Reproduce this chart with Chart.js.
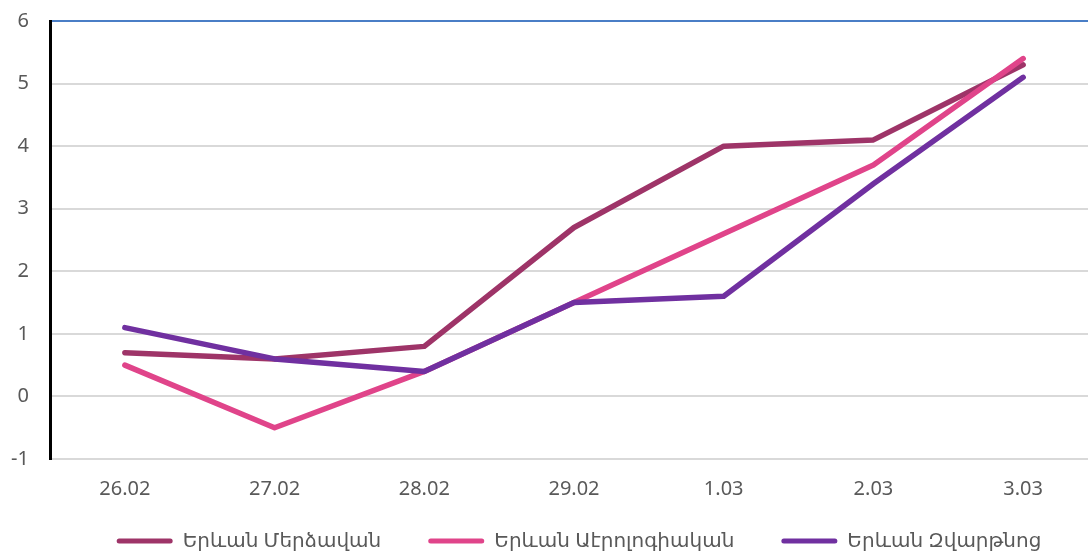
<!DOCTYPE html>
<html>
<head>
<meta charset="utf-8">
<script src="https://cdn.jsdelivr.net/npm/chart.js@4"></script>
<style>
  html, body { margin: 0; padding: 0; background: #fff; overflow: hidden; }
  #wrap { width: 1098px; height: 553px; }
</style>
</head>
<body>
<div id="wrap"><canvas id="temp_chart" width="1098" height="553"></canvas></div>
<script>
// dates on x axis
var days = ['26.02', '27.02', '28.02', '29.02', '1.03', '2.03', '3.03'];

// station series
var merdzavan = [0.7, 0.6, 0.8, 2.7, 4.0, 4.1, 5.3];
var aerologic = [0.5, -0.5, 0.4, 1.5, 2.6, 3.7, 5.4];
var zvartnots = [1.1, 0.6, 0.4, 1.5, 1.6, 3.4, 5.1];

var seriesNames = ['Երևան Մերձավան', 'Երևան Աէրոլոգիական', 'Երևան Զվարթնոց'];
var seriesColors = ['#9E3468', '#E0448A', '#7030A0'];

var yMin = -1, yMax = 6;

var fontFamily = "'Noto Sans', 'DejaVu Sans', sans-serif";
var textColor = '#595959';

function makeDataset(i, values, order) {
    return {
        label: seriesNames[i],
        data: values,
        borderColor: seriesColors[i],
        backgroundColor: seriesColors[i],
        borderWidth: 5.5,
        pointRadius: 0,
        pointHoverRadius: 0,
        tension: 0,
        fill: false,
        borderCapStyle: 'round',
        borderJoinStyle: 'round',
        order: order
    };
}

// legend: reserve a small height, then widen its box upward and move it right
var legendTweak = {
    id: 'legendTweak',
    beforeLayout: function(chart) {
        var lg = chart.legend;
        if (lg && !lg._tweaked) {
            var fit = lg.fit;
            lg.fit = function() {
                fit.call(this);
                this.height = 44;
            };
            lg._tweaked = true;
        }
    },
    afterLayout: function(chart) {
        var lg = chart.legend;
        if (lg) {
            lg.left += 30;
            lg.right += 30;
            lg.top -= 25;
            lg.height = lg.bottom - lg.top;
        }
    }
};

var ctx = document.getElementById('temp_chart');

var chartTemp = new Chart(ctx, {
    type: 'line',
    data: {
        labels: days,
        datasets: [
            makeDataset(0, merdzavan, 3),
            makeDataset(1, aerologic, 2),
            makeDataset(2, zvartnots, 1)
        ]
    },
    plugins: [legendTweak],
    options: {
        responsive: false,
        animation: false,
        layout: {
            padding: { top: 21, right: 0, bottom: 0, left: 0 }
        },
        plugins: {
            tooltip: { enabled: false },
            legend: {
                position: 'bottom',
                labels: {
                    boxWidth: 56,
                    boxHeight: 5,
                    useBorderRadius: true,
                    borderRadius: 2.5,
                    padding: 47,
                    color: textColor,
                    font: { family: fontFamily, size: 20 },
                    sort: function(a, b) { return a.datasetIndex - b.datasetIndex; },
                    generateLabels: function(chart) {
                        var items = Chart.defaults.plugins.legend.labels.generateLabels(chart);
                        items.forEach(function(it) {
                            it.lineWidth = 0;
                            it.fillStyle = seriesColors[it.datasetIndex];
                        });
                        return items;
                    }
                }
            }
        },
        scales: {
            x: {
                offset: true,
                grid: { display: false, drawTicks: false },
                border: { display: false },
                ticks: {
                    color: textColor,
                    font: { family: fontFamily, size: 20 },
                    padding: 18,
                    maxRotation: 0
                },
                afterFit: function(scale) {
                    scale.height = 50;
                }
            },
            y: {
                min: yMin,
                max: yMax,
                ticks: {
                    stepSize: 1,
                    color: textColor,
                    font: { family: fontFamily, size: 20 },
                    padding: 21
                },
                grid: {
                    drawTicks: false,
                    lineWidth: 2,
                    color: function(c) {
                        return c.tick && c.tick.value === yMax ? '#4A7EC6' : '#D9D9D9';
                    }
                },
                border: { display: true, color: '#000000', width: 3 },
                afterFit: function(scale) {
                    scale.width = 50;
                    scale.paddingTop = 0;
                    scale.paddingBottom = 0;
                }
            }
        }
    }
});
</script>
</body>
</html>
